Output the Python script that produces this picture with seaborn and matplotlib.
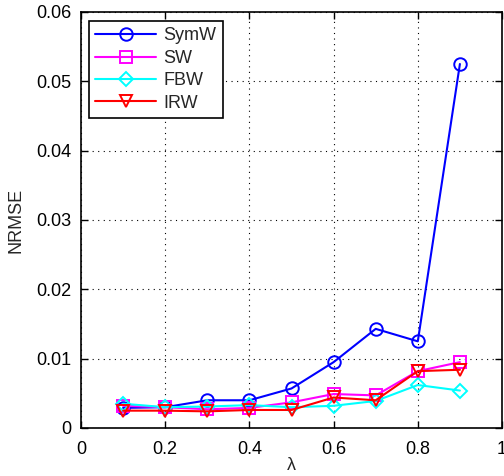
import matplotlib
matplotlib.use("Agg")
import matplotlib.pyplot as plt
import seaborn as sns
import pandas as pd
import numpy as np

lam = [0.1, 0.2, 0.3, 0.4, 0.5, 0.6, 0.7, 0.8, 0.9]
symw = [0.0029, 0.0030, 0.0040, 0.0040, 0.0057, 0.0095, 0.0143, 0.0125, 0.0525]
sw = [0.0032, 0.0030, 0.0027, 0.0029, 0.0037, 0.0049, 0.0047, 0.0082, 0.0095]
fbw = [0.0035, 0.0030, 0.0031, 0.0033, 0.0030, 0.0032, 0.0039, 0.0062, 0.0054]
irw = [0.0025, 0.0025, 0.0024, 0.0026, 0.0026, 0.0044, 0.0040, 0.0082, 0.0084]
series_names = ["SymW", "SW", "FBW", "IRW"]
colors = ["#0000ff", "#ff00ff", "#00ffff", "#ff0000"]
markers = ["o", "s", "D", "v"]
msizes = [9, 8, 7.5, 9]

df = pd.concat([
    pd.DataFrame({"lam": lam, "val": v, "method": n})
    for n, v in zip(series_names, [symw, sw, fbw, irw])
])

sns.set_style("white")
plt.rcParams["font.family"] = ["Liberation Sans", "DejaVu Sans"]

fig = plt.figure(figsize=(5.04, 4.76), dpi=100)
ax = fig.add_axes([81 / 504, 1 - 428 / 476, 421 / 504, 416 / 476])

sns.lineplot(data=df, x="lam", y="val", hue="method", style="method",
             hue_order=series_names, style_order=series_names,
             palette=dict(zip(series_names, colors)),
             markers=dict(zip(series_names, markers)),
             dashes=False, linewidth=1.5, ax=ax, legend=False)
for ln, c, ms in zip(ax.lines, colors, msizes):
    ln.set_markerfacecolor("none")
    ln.set_markeredgecolor(c)
    ln.set_markeredgewidth(1.4)
    ln.set_markersize(ms)
    ln.set_linestyle("-")

ax.set_xlim(0, 1)
ax.set_ylim(0, 0.06)
ax.set_xticks([0, 0.2, 0.4, 0.6, 0.8, 1])
ax.set_xticklabels(["0", "0.2", "0.4", "0.6", "0.8", "1"])
ax.set_yticks([0, 0.01, 0.02, 0.03, 0.04, 0.05, 0.06])
ax.set_yticklabels(["0", "0.01", "0.02", "0.03", "0.04", "0.05", "0.06"])
ax.grid(True, color="black", linestyle=(0, (1, 4)), linewidth=0.8)
ax.tick_params(direction="in", length=5, width=1, labelsize=13, colors="black",
               top=True, right=True, bottom=True, left=True, pad=7)
ax.tick_params(axis="x", pad=9)
for s in ax.spines.values():
    s.set_visible(True)
    s.set_color("black")
    s.set_linewidth(1.2)
ax.set_xlabel("λ", fontsize=13, labelpad=0)
ax.set_ylabel("NRMSE", fontsize=13, labelpad=8)

leg = ax.legend(handles=ax.lines[:4], labels=series_names, loc="upper left",
                bbox_to_anchor=(0.018, 0.978), fontsize=13, frameon=True,
                fancybox=False, edgecolor="black", handlelength=3.4,
                borderpad=0.35, labelspacing=0.3, handletextpad=0.4,
                borderaxespad=0, framealpha=1)
leg.get_frame().set_linewidth(1.2)

fig.savefig("out.png", dpi=100)
